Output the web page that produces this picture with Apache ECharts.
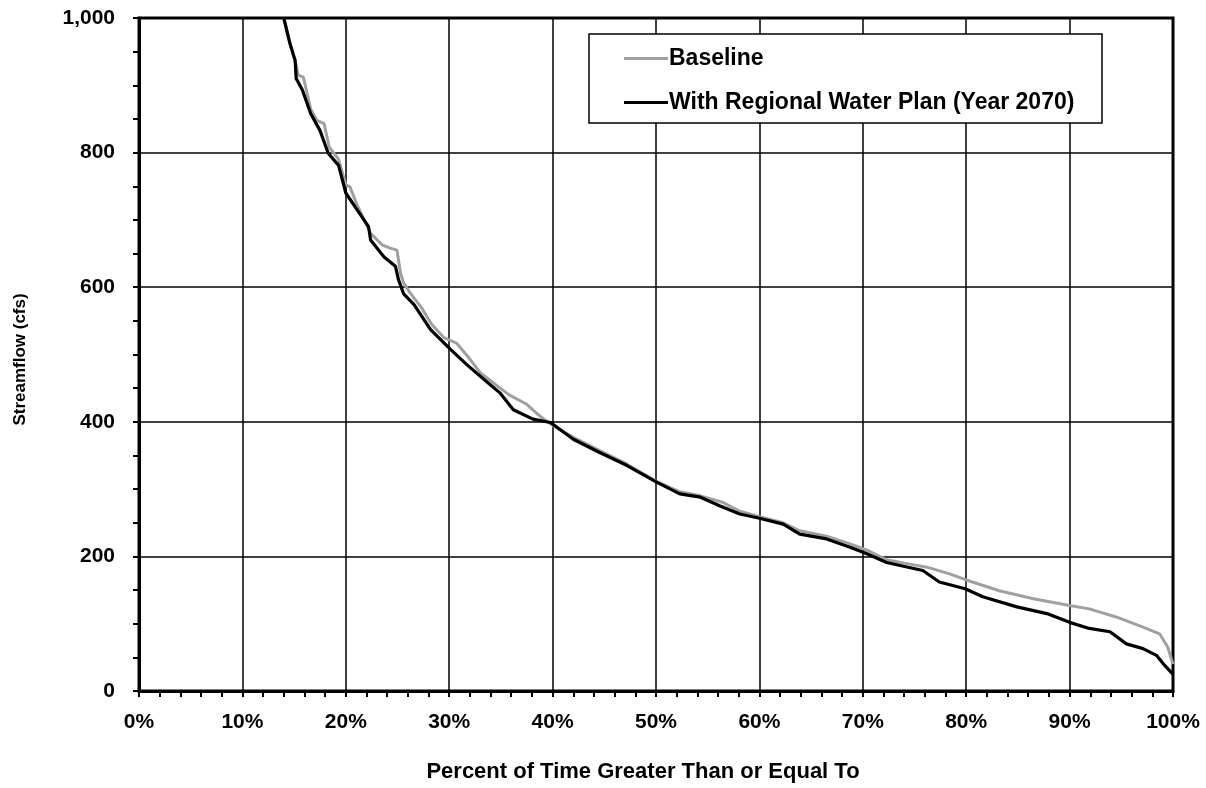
<!DOCTYPE html>
<html>
<head>
<meta charset="utf-8">
<script src="https://cdn.jsdelivr.net/npm/echarts@6/dist/echarts.min.js"></script>
<style>html,body{margin:0;padding:0;background:#fff;overflow:hidden}#c{width:1206px;height:788px}</style>
</head>
<body>
<div id="c"></div>
<script>
const seriesNames = ['Baseline', 'With Regional Water Plan (Year 2070)'];
const baselinePct = [14.0,14.6,15.2,15.4,15.9,16.6,17.2,17.9,18.4,19.3,20.0,20.4,21.1,22.4,23.5,24.3,24.95,25.3,25.6,26.2,27.3,28.3,29.5,30.7,31.8,33.0,34.5,35.8,37.5,38.5,39.4,40.5,42,44.6,47.2,50,52.3,54.3,56.5,58.1,60,62.3,63.9,66.5,68.7,70.6,72.3,74,76.2,78.4,80,83.2,86.5,90,91.9,94.5,97.1,98.7,99.5,99.8,100];
const baselineFlow = [1000,962,930,915,912,865,848,843,808,790,752,749,722,680,663,658,655,620,606,592,570,545,525,517,497,473,455,440,426,412,401,390,377,357,337,312,296,290,280,267,259,250,238,230,219,208,195,190,184,174,165,149,137,127,122,110,95,85,65,50,40];
const planPct = [14.0,14.6,15.1,15.2,15.8,16.6,17.5,18.3,19.3,20.0,21.1,22.2,22.4,23.7,24.8,25.1,25.6,26.6,28.2,30.1,31.7,33.6,34.9,36.2,38.1,39.8,42,44.6,47.2,50.1,52.3,54.3,56.2,58.1,59.9,62.3,63.9,66.5,68.7,70.4,72.3,75.8,77.4,79.9,81.6,84.9,87.8,90,91.9,93.9,95.5,97.1,98.4,99.2,99.8,100];
const planFlow = [1000,962,937,910,893,858,833,799,781,740,715,690,670,645,631,611,590,574,537,508,485,460,443,418,404,399,374,354,335,310,293,288,275,263,257,248,233,226,214,204,191,179,162,152,140,125,115,102,93,88,70,63,53,38,28,25];
const xTitle = 'Percent of Time Greater Than or Equal To';
const yTitle = 'Streamflow (cfs)';

const zip = (a, b) => a.map((v, i) => [v, b[i]]);
const chart = echarts.init(document.getElementById('c'), null, {renderer: 'canvas', width: 1206, height: 788});
const FONT = 'Liberation Sans';
chart.setOption({
  animation: false,
  backgroundColor: '#fff',
  grid: {left: 139, top: 18, width: 1034, height: 675, show: true, borderColor: '#000', borderWidth: 3, backgroundColor: 'transparent'},
  graphic: [{type: 'rect', shape: {x: 589, y: 34, width: 513, height: 89}, style: {fill: '#fff', stroke: '#000', lineWidth: 1.5}, z: 50}],
  legend: {
    orient: 'vertical', left: 619, top: 42, itemGap: 21, itemWidth: 44, itemHeight: 3, icon: 'rect',
    textStyle: {fontFamily: FONT, fontWeight: 'bold', fontSize: 23, color: '#000', padding: [0,0,0,-4]},
    z: 60
  },
  xAxis: {
    type: 'value', min: 0, max: 100, interval: 10,
    name: xTitle, nameLocation: 'middle', nameGap: 70,
    nameTextStyle: {fontFamily: FONT, fontWeight: 'bold', fontSize: 22, color: '#000', verticalAlign: 'top', padding: [0, 26, 0, 0]},
    axisLine: {show: true, lineStyle: {color: '#000', width: 3}},
    axisTick: {show: true, length: 6, lineStyle: {color: '#000', width: 2}},
    minorTick: {show: true, splitNumber: 5, length: 6, lineStyle: {color: '#000', width: 2}},
    splitLine: {show: true, lineStyle: {color: '#000', width: 1.5}},
    axisLabel: {formatter: '{value}%', margin: 21, fontFamily: FONT, fontWeight: 'bold', fontSize: 21, color: '#000'}
  },
  yAxis: {
    type: 'value', min: 0, max: 1000, interval: 200,
    name: yTitle, nameLocation: 'middle', nameGap: 110,
    nameTextStyle: {fontFamily: FONT, fontWeight: 'bold', fontSize: 17, color: '#000', padding: [0, 10, 0, 0]},
    axisLine: {show: true, lineStyle: {color: '#000', width: 3}},
    axisTick: {show: true, length: 6, lineStyle: {color: '#000', width: 2}},
    minorTick: {show: true, splitNumber: 4, length: 6, lineStyle: {color: '#000', width: 2}},
    splitLine: {show: true, lineStyle: {color: '#000', width: 1.5}},
    axisLabel: {formatter: v => v.toLocaleString('en-US'), margin: 24, fontFamily: FONT, fontWeight: 'bold', fontSize: 21, color: '#000'}
  },
  series: [
    {name: seriesNames[0], type: 'line', data: zip(baselinePct, baselineFlow), showSymbol: false, symbol: 'none',
     lineStyle: {color: '#a0a0a0', width: 3}, itemStyle: {color: '#a0a0a0'}, z: 3},
    {name: seriesNames[1], type: 'line', data: zip(planPct, planFlow), showSymbol: false, symbol: 'none',
     lineStyle: {color: '#000', width: 3.2}, itemStyle: {color: '#000'}, z: 4}
  ]
});
</script>
</body>
</html>
